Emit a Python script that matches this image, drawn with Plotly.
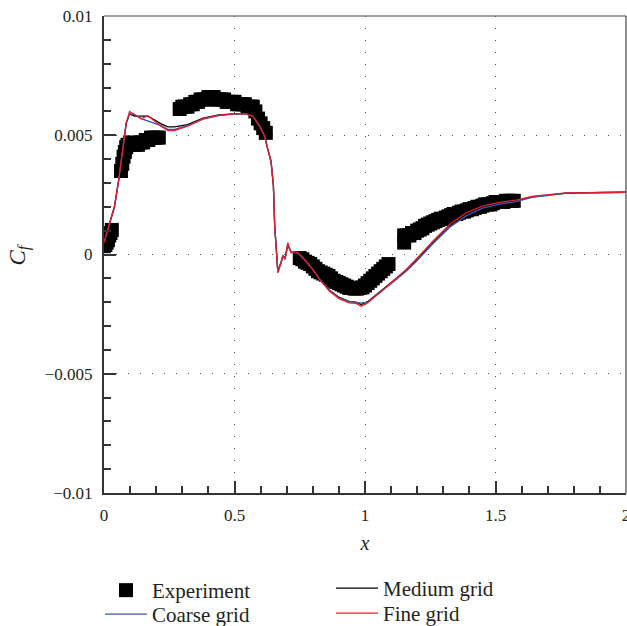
import plotly.graph_objects as go

# ---------------- data ----------------
exp_x = [0.0, 0.005, 0.01, 0.015, 0.02, 0.025, 0.03,
         0.065, 0.07, 0.075, 0.08, 0.085, 0.09, 0.10, 0.11, 0.12, 0.13, 0.14, 0.15, 0.16,
         0.17, 0.18, 0.19, 0.20, 0.21,
         0.29, 0.30, 0.31, 0.32, 0.33, 0.34, 0.35, 0.36, 0.37, 0.38, 0.39, 0.40, 0.41, 0.42,
         0.43, 0.44, 0.45, 0.46, 0.47, 0.48, 0.49, 0.50, 0.51, 0.52, 0.53, 0.54, 0.55, 0.56,
         0.57, 0.58, 0.59, 0.60, 0.61, 0.62,
         0.75, 0.76, 0.77, 0.78, 0.79, 0.80, 0.81, 0.82, 0.83, 0.84, 0.85, 0.86, 0.87, 0.88,
         0.89, 0.90, 0.91, 0.92, 0.93, 0.94, 0.95, 0.96, 0.97, 0.98, 0.99, 1.00, 1.01, 1.02,
         1.03, 1.04, 1.05, 1.06, 1.07, 1.08, 1.09,
         1.15, 1.15, 1.16, 1.17, 1.18, 1.19, 1.20, 1.21, 1.22, 1.23, 1.24, 1.25, 1.26, 1.27,
         1.28, 1.29, 1.30, 1.31, 1.32, 1.33, 1.34, 1.35, 1.36, 1.37, 1.38, 1.39, 1.40, 1.41,
         1.42, 1.43, 1.44, 1.45, 1.46, 1.47, 1.48, 1.49, 1.50, 1.51, 1.52, 1.53, 1.54, 1.55,
         1.56, 1.57]
exp_cf = [0.00035, 0.0004, 0.0005, 0.0006, 0.0008, 0.0009, 0.00103,
          0.0035, 0.0038, 0.0041, 0.0043, 0.0045, 0.0046, 0.0047, 0.0046, 0.0046, 0.0046,
          0.0047, 0.0047, 0.0048, 0.0048, 0.0049, 0.0049, 0.0049, 0.0049,
          0.0061, 0.0062, 0.0062, 0.0062, 0.0063, 0.0063, 0.0064, 0.0064, 0.0065, 0.0065,
          0.0065, 0.0066, 0.0066, 0.0066, 0.0065, 0.0065, 0.0065, 0.0065, 0.0064, 0.0064,
          0.0064, 0.0064, 0.0063, 0.0063, 0.0063, 0.0063, 0.0062, 0.0062, 0.0062, 0.0060,
          0.0057, 0.0055, 0.0053, 0.0051,
          -0.00015, -0.0002, -0.0003, -0.00035, -0.0004, -0.0005, -0.0006, -0.0007, -0.00075,
          -0.0008, -0.00085, -0.0009, -0.001, -0.0011, -0.00115, -0.0012, -0.00125, -0.0013,
          -0.00135, -0.0014, -0.0014, -0.00143, -0.00143, -0.0014, -0.00138, -0.0013, -0.0012,
          -0.0011, -0.001, -0.0009, -0.0008, -0.0007, -0.0006, -0.0005, -0.0004,
          0.0005, 0.0008, 0.0008, 0.0008, 0.0009, 0.0009, 0.001, 0.00105, 0.0011, 0.0012,
          0.00125, 0.0013, 0.00135, 0.0014, 0.00145, 0.0015, 0.0015, 0.00155, 0.0016, 0.00165,
          0.0017, 0.0017, 0.00175, 0.0018, 0.0018, 0.00185, 0.0019, 0.0019, 0.00195, 0.002,
          0.002, 0.00205, 0.0021, 0.0021, 0.0021, 0.00215, 0.0022, 0.0022, 0.0022, 0.0022,
          0.00225, 0.00225, 0.00225, 0.00225]

cfd_x = [0.0, 0.02, 0.04, 0.056, 0.072, 0.085, 0.098, 0.117, 0.142, 0.168, 0.193, 0.219,
         0.245, 0.27, 0.32, 0.38, 0.44, 0.50, 0.545, 0.57, 0.596, 0.615, 0.628, 0.64, 0.649,
         0.654, 0.661, 0.666, 0.679, 0.685, 0.694, 0.704, 0.717, 0.73, 0.743, 0.768, 0.80,
         0.826, 0.864, 0.902, 0.94, 0.966, 0.985, 1.01, 1.056, 1.107, 1.158, 1.196, 1.26,
         1.324, 1.388, 1.451, 1.515, 1.579, 1.64, 1.77, 1.9, 2.0]

fine_cf = [0.0005, 0.0012, 0.002, 0.0031, 0.0045, 0.0055, 0.0060, 0.00587, 0.00569, 0.00582,
           0.00559, 0.00538, 0.0052, 0.0052, 0.00538, 0.0057, 0.00584, 0.0059, 0.0059, 0.0058,
           0.00538, 0.00496, 0.0044, 0.0039, 0.0029, 0.0012, 0.00007, -0.00077, -0.00035,
           -0.00007, -0.00021, 0.00049, 0.00007, 0.0001, 0.00007, -0.0002, -0.00063, -0.00105,
           -0.00154, -0.00186, -0.00203, -0.00205, -0.00217, -0.00203, -0.0016, -0.00112,
           -0.00063, -0.0002, 0.00056, 0.00126, 0.00175, 0.00203, 0.00219, 0.00228, 0.00244,
           0.00258, 0.0026, 0.00261]

medium_cf = [0.0005, 0.0012, 0.0020, 0.0031, 0.0045, 0.0055, 0.0059, 0.0058, 0.0058, 0.0058,
             0.00565, 0.00548, 0.00535, 0.00535, 0.00545, 0.00572, 0.00585, 0.0059, 0.0059,
             0.0058, 0.0054, 0.00498, 0.0044, 0.0039, 0.0029, 0.0012, 0.0001, -0.0007, -0.0003,
             -0.00005, -0.00015, 0.0004, 0.0001, 0.0001, 0.00007, -0.00018, -0.0006, -0.001,
             -0.0015, -0.0018, -0.00198, -0.002, -0.0021, -0.00198, -0.00158, -0.00112,
             -0.00066, -0.00025, 0.0005, 0.0012, 0.0017, 0.002, 0.00216, 0.00226, 0.00242,
             0.00257, 0.0026, 0.00261]

coarse_cf = [0.0005, 0.0012, 0.0020, 0.0031, 0.0045, 0.0055, 0.0059, 0.00588, 0.0057, 0.0056,
             0.0055, 0.0054, 0.00525, 0.00525, 0.0054, 0.00568, 0.00582, 0.0059, 0.0059,
             0.0058, 0.0054, 0.005, 0.0044, 0.0039, 0.0029, 0.0012, 0.0001, -0.0007, -0.0003,
             -0.00005, -0.00015, 0.0004, 0.00008, 0.0001, 0.00005, -0.00022, -0.00062, -0.00102,
             -0.0015, -0.00182, -0.00198, -0.002, -0.00204, -0.002, -0.00162, -0.00116,
             -0.0007, -0.0003, 0.00045, 0.00113, 0.00163, 0.00194, 0.00211, 0.00222, 0.0024,
             0.00256, 0.0026, 0.00261]

x_ticks = [0, 0.5, 1, 1.5, 2]
x_ticklabels = ["0", "0.5", "1", "1.5", "2"]
y_ticks = [-0.01, -0.005, 0, 0.005, 0.01]
y_ticklabels = ["\u22120.01", "\u22120.005", "0", "0.005", "0.01"]

# ---------------- figure ----------------
FONT = "Liberation Serif, Times New Roman, serif"
TXT = "#231f20"

fig = go.Figure()
fig.add_trace(go.Scatter(x=exp_x, y=exp_cf, mode="markers", name="Experiment",
                         legend="legend",
                         marker=dict(symbol="square", size=14, color="black",
                                     line=dict(width=0))))
fig.add_trace(go.Scatter(x=cfd_x, y=medium_cf, mode="lines", name="Medium grid",
                         legend="legend3",
                         line=dict(color="black", width=1.3)))
fig.add_trace(go.Scatter(x=cfd_x, y=coarse_cf, mode="lines", name="Coarse grid",
                         legend="legend2",
                         line=dict(color="#3e56a6", width=1.3)))
fig.add_trace(go.Scatter(x=cfd_x, y=fine_cf, mode="lines", name="Fine grid",
                         legend="legend4",
                         line=dict(color="#e0202a", width=1.3)))

axis_common = dict(
    showline=True, linecolor="#333333", linewidth=2, mirror=False,
    ticks="inside", ticklen=12, tickwidth=1.5, tickcolor="#333333",
    showgrid=True, gridcolor="#555555", gridwidth=1.3, griddash="1px,11px",
    zeroline=False, tickfont=dict(family=FONT, size=17, color=TXT),
    ticklabeloverflow="allow", automargin=False,
)

fig.update_xaxes(range=[0, 2], tickvals=x_ticks, ticktext=x_ticklabels,
                 minor=dict(dtick=0.1, tick0=0, ticks="inside", ticklen=7, tickwidth=1.5,
                            tickcolor="#333333", showgrid=False),
                 title=dict(text="<i>x</i>", font=dict(family=FONT, size=20, color=TXT),
                            standoff=12),
                 ticklabelstandoff=6,
                 **axis_common)
fig.update_yaxes(range=[-0.01, 0.01], tickvals=y_ticks, ticktext=y_ticklabels,
                 minor=dict(dtick=0.001, tick0=0, ticks="inside", ticklen=7, tickwidth=1.5,
                            tickcolor="#333333", showgrid=False),
                 ticklabelstandoff=6,
                 **axis_common)

# y-axis title as rotated annotation (axis title placement is unreliable here)
fig.add_annotation(text="<i>C<sub>f</sub></i>", xref="paper", yref="paper",
                   x=-85 / 522, y=0.5, xanchor="center", yanchor="middle",
                   textangle=-90, showarrow=False,
                   font=dict(family=FONT, size=23, color=TXT))

# top and right frame lines (thinner)
fig.add_shape(type="line", xref="paper", yref="paper", x0=0, x1=1, y0=1, y1=1,
              line=dict(color="#444444", width=1.2))
fig.add_shape(type="line", xref="paper", yref="paper", x0=1, x1=1, y0=0, y1=1,
              line=dict(color="#444444", width=1.2))


def legend_box(left_px, top_px):
    return dict(xref="container", x=left_px / 627, xanchor="left",
                yref="container", y=1 - top_px / 626, yanchor="top",
                font=dict(family=FONT, size=21, color=TXT),
                bgcolor="rgba(0,0,0,0)", itemwidth=42)


fig.update_layout(
    width=627, height=626,
    margin=dict(l=104, r=1, t=16, b=133, autoexpand=False),
    paper_bgcolor="white", plot_bgcolor="white",
    font=dict(family=FONT, color=TXT),
    showlegend=True,
    legend=legend_box(100, 570),
    legend2=legend_box(100, 594),
    legend3=legend_box(331, 568),
    legend4=legend_box(331, 593),
)

fig.write_html("out.html")
